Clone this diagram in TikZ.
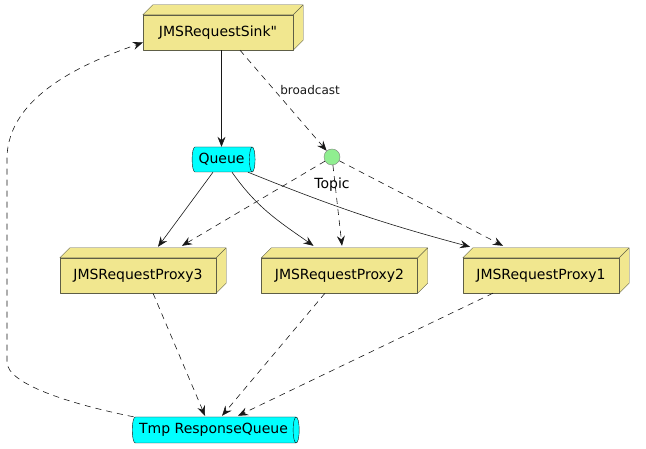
\documentclass[tikz,border=0pt]{standalone}
\usepackage{fontspec}
\setmainfont{DejaVu Sans}[Ligatures=TeXOff]
\usetikzlibrary{arrows.meta,shapes.geometric}

\definecolor{nodefill}{RGB}{241,231,143}
\definecolor{nodeline}{RGB}{94,94,70}
\definecolor{queuefill}{RGB}{0,255,255}
\definecolor{topicfill}{RGB}{144,238,144}
\definecolor{edgecol}{RGB}{24,24,24}

\tikzset{
  nodebox/.style={draw=nodeline, fill=nodefill, minimum width=156pt, minimum height=35pt,
    inner sep=0pt, font=\fontsize{14}{16}\selectfont,
    append after command={\pgfextra{
      \draw[nodeline, fill=nodefill, line join=round]
        (\tikzlastnode.north west) -- ++(10pt,10pt)
        -- ([shift={(10pt,10pt)}]\tikzlastnode.north east)
        -- ([shift={(10pt,10pt)}]\tikzlastnode.south east)
        -- (\tikzlastnode.south east) -- (\tikzlastnode.north east) -- cycle
        (\tikzlastnode.north east) -- ++(10pt,10pt);}}},
  queue/.style={cylinder, draw=edgecol, fill=queuefill, shape aspect=0.4,
    inner sep=1pt, font=\fontsize{14}{16}\selectfont},
  topic/.style={circle, draw=black!50, fill=topicfill, minimum size=16pt, inner sep=0pt},
  flow/.style={edgecol, semithick, -{Stealth[length=10pt,width=8pt,inset=3.5pt]}},
  dep/.style={flow, dash pattern=on 6pt off 5pt},
}

\begin{document}
\begin{tikzpicture}[x=1pt,y=1pt,line join=round]
  \useasboundingbox (0,0) rectangle (646,449);
  % nodes
  \node[nodebox, minimum width=150pt] (sink) at (218,416.5) {JMSRequestSink"};
  \node[queue, minimum height=63pt, minimum width=25pt] (queue) at (221.5,289.5) {Queue};
  \node[topic, label={[font=\fontsize{14}{16}\selectfont, label distance=9pt]below:Topic}] (topic) at (332,292) {};
  \node[nodebox] (proxy3) at (138,173.5) {JMSRequestProxy3};
  \node[nodebox] (proxy2) at (339.5,173.5) {JMSRequestProxy2};
  \node[nodebox] (proxy1) at (541,173.5) {JMSRequestProxy1};
  \node[queue, minimum height=167pt, minimum width=26pt] (tmpq) at (213.5,19) {Tmp ResponseQueue};

  % requests
  \draw[flow] (sink.south -| queue.north) -- (queue.north);
  \draw[dep] ([xshift=22pt]sink.south) -- (topic)
    node[pos=0.4, right=2pt, font=\fontsize{12}{14}\selectfont]{broadcast};
  \draw[flow] ([xshift=-8.5pt]queue.south) -- ([shift={(20pt,11pt)}]proxy3.north);
  \draw[flow] ([xshift=10.5pt]queue.south) to[out=-55,in=145] ([shift={(-26pt,12pt)}]proxy2.north);
  \draw[flow] ([xshift=26.5pt]queue.south) to[out=-22,in=165] ([shift={(-71pt,11pt)}]proxy1.north);
  \draw[dep] (topic) -- ([shift={(44pt,12pt)}]proxy3.north);
  \draw[dep] (topic) -- ([shift={(2.5pt,12pt)}]proxy2.north);
  \draw[dep] (topic) -- ([shift={(-38pt,12pt)}]proxy1.north);

  % responses
  \draw[dep] ([xshift=15pt]proxy3.south) -- ([shift={(-8.5pt,1pt)}]tmpq.north);
  \draw[dep] ([xshift=-14.5pt]proxy2.south) -- ([shift={(8.5pt,1pt)}]tmpq.north);
  \draw[dep] ([xshift=-48pt]proxy1.south) -- ([shift={(24.5pt,1pt)}]tmpq.north);
  \draw[dep] ([xshift=-80pt]tmpq.north) .. controls (70,45) and (7,65) .. (7,87) -- (7,290)
    .. controls (7,355) and (90,388) .. ([yshift=-10pt]sink.west);
\end{tikzpicture}
\end{document}
